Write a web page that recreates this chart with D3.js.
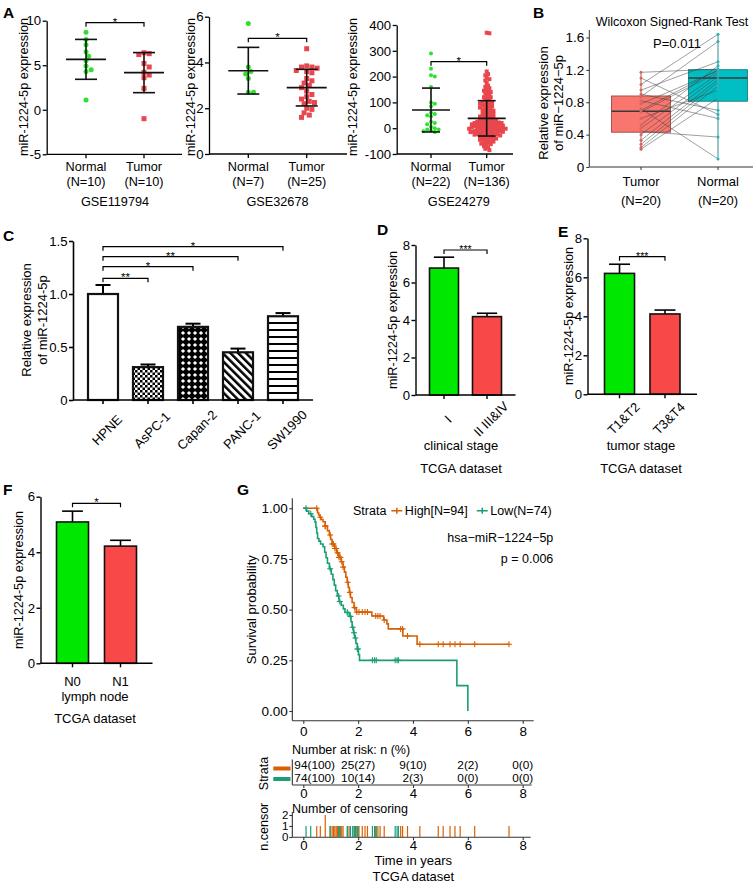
<!DOCTYPE html>
<html><head><meta charset="utf-8">
<script src="https://cdn.jsdelivr.net/npm/d3@7"></script>
<style>body{margin:0;background:#fff}svg{display:block}text{font-family:"Liberation Sans",Arial,Helvetica,sans-serif}</style>
</head><body>
<svg id="c" width="753" height="883"></svg>
<script>
// ================= DATA =================
const aGroups = ["Normal", "Tumor"];
// GSE119794
const a1Normal = [8.7, 7.9, 7.3, 6.5, 6.0, 5.5, 4.9, 4.5, 4.3, 1.1];
const a1Tumor = [6.4, 6.3, 6.2, 5.2, 4.8, 4.2, 3.9, 3.6, 2.4, -1.0];
const a1Mean = [5.66, 4.17], a1SD = [2.24, 2.25];
const a1N = ["(N=10)", "(N=10)"];
const a1Ticks = [-5, 0, 5, 10];
// GSE32678
const a2Normal = [5.7, 3.8, 3.6, 3.5, 3.3, 2.7, 2.7];
const a2Tumor = [4.6, 3.85, 3.8, 3.8, 3.75, 3.65, 3.6, 3.55, 3.3, 3.2, 3.1, 3.0, 2.9, 2.75, 2.6, 2.5, 2.4, 2.3, 2.25, 2.2, 2.0, 1.95, 1.8, 1.7, 1.6];
const a2Mean = [3.64, 2.9], a2SD = [1.02, 0.8];
const a2N = ["(N=7)", "(N=25)"];
const a2Ticks = [0, 2, 4, 6];
// GSE24279
const a3Normal = [290, 230, 205, 200, 160, 100, 95, 85, 60, 55, 50, 45, 25, 20, 15, 5, 0, -5, -5, -10, -12, -15];
const a3Tumor = [370, 368,
  220, 210, 205, 195, 190, 185, 175, 165, 160, 155, 150, 145, 140, 140, 135, 130, 125, 120, 120, 115,
  110, 105, 102, 100, 98, 95, 92, 90, 88, 85,
  82, 80, 78, 75, 72, 70, 68, 65, 62, 60,
  58, 55, 52, 50, 48, 45, 42, 40, 38, 35,
  33, 30, 28, 25, 24, 22, 20, 18, 16, 15,
  13, 12, 10, 8, 6, 5, 4, 2, 1, 0,
  -1, -2, -4, -5, -6, -8, -10, -11, -12, -14,
  -15, -16, -18, -20, -21, -22, -24, -25, -26, -28,
  -30, -31, -33, -35, -36, -38, -40, -42, -44, -45,
  -48, -50, -52, -55, -58, -60, -62, -65, -70, -75,
  5, 8, 10, 12, 15, 18, 20, 22, -5, -8, -10, -12, -15, 25, 28, 30, -20, -25, 3, 0, -2, -85, -80, 45];
const a3Mean = [70.5, 38.2], a3SD = [85, 68.5];
const a3N = ["(N=22)", "(N=136)"];
const a3Ticks = [-100, 0, 100, 200, 300, 400];

// B: paired Wilcoxon
const bGroups = ["Tumor", "Normal"];
const bTumor = [1.17, 1.10, 1.02, 0.95, 0.90, 0.87, 0.82, 0.78, 0.72, 0.70, 0.68, 0.60, 0.52, 0.48, 0.44, 0.40, 0.33, 0.28, 0.24, 0.22];
const bNormal = [1.21, 0.65, 1.64, 1.30, 0.70, 1.55, 0.60, 1.19, 0.10, 1.20, 1.17, 0.95, 1.25, 1.15, 0.37, 1.12, 1.08, 1.05, 1.00, 0.85];
const bTicks = [0, 0.4, 0.8, 1.2, 1.6];

// C: cell lines
const cLines = ["HPNE", "AsPC-1", "Capan-2", "PANC-1", "SW1990"];
const cValues = [1.00, 0.31, 0.69, 0.45, 0.79];
const cSEM = [0.085, 0.025, 0.03, 0.035, 0.03];
const cTicks = [0, 0.5, 1.0, 1.5];
const cBrackets = [["HPNE", "SW1990", "*"], ["HPNE", "PANC-1", "**"], ["HPNE", "Capan-2", "*"], ["HPNE", "AsPC-1", "**"]];

// D / E / F: TCGA
const dCats = ["I", "II III&IV"], dValues = [6.77, 4.18], dSEM = [0.58, 0.18];
const eCats = ["T1&T2", "T3&T4"], eValues = [6.2, 4.12], eSEM = [0.47, 0.2];
const fCats = ["N0", "N1"], fValues = [5.09, 4.22], fSEM = [0.39, 0.21];
const tcgaTicks8 = [0, 2, 4, 6, 8], tcgaTicks6 = [0, 2, 4, 6];

// G: Kaplan-Meier
const highTimes = [0, 0.52, 0.56, 0.60, 0.65, 0.72, 0.80, 0.88, 0.95, 1.00, 1.05, 1.15, 1.22, 1.30, 1.38, 1.45, 1.50, 1.55, 1.60, 1.64, 1.68, 1.72, 1.78, 1.85, 1.93, 2.50, 2.93, 3.05, 3.10, 3.63, 4.15, 7.50];
const highSurv = [1, 0.978, 0.967, 0.956, 0.945, 0.934, 0.912, 0.890, 0.868, 0.846, 0.824, 0.802, 0.780, 0.758, 0.736, 0.710, 0.685, 0.660, 0.635, 0.610, 0.585, 0.560, 0.535, 0.510, 0.488, 0.469, 0.449, 0.430, 0.405, 0.370, 0.329, 0.329];
const lowTimes = [0, 0.12, 0.20, 0.31, 0.38, 0.43, 0.46, 0.49, 0.52, 0.57, 0.63, 0.72, 0.78, 0.83, 0.88, 0.95, 1.02, 1.08, 1.13, 1.18, 1.24, 1.30, 1.38, 1.46, 1.52, 1.68, 1.74, 1.78, 1.83, 1.87, 1.92, 1.97, 2.01, 2.05, 5.60, 6.00];
const lowSurv = [1, 0.986, 0.973, 0.959, 0.946, 0.932, 0.905, 0.878, 0.851, 0.838, 0.824, 0.810, 0.783, 0.756, 0.729, 0.702, 0.675, 0.648, 0.621, 0.594, 0.567, 0.540, 0.522, 0.504, 0.486, 0.467, 0.440, 0.413, 0.386, 0.360, 0.333, 0.306, 0.278, 0.250, 0.125, 0];
const highCensor = [0.49, 0.62, 0.80, 0.80, 0.98, 1.05, 1.10, 1.15, 1.20, 1.25, 1.30, 1.35, 1.40, 1.45, 1.62, 1.70, 1.87, 1.95, 2.03, 2.15, 2.25, 2.34, 2.64, 2.72, 2.80, 2.95, 3.55, 3.62, 3.80, 4.25, 4.92, 5.10, 5.35, 5.53, 5.72, 6.25, 7.50];
const lowCensor = [0.10, 0.27, 0.98, 1.29, 1.33, 1.60, 1.62, 1.72, 1.80, 1.85, 1.90, 1.97, 2.00, 2.52, 2.60, 2.66, 3.35, 3.42, 3.47];
const riskTimes = [0, 2, 4, 6, 8];
const riskHigh = ["94(100)", "25(27)", "9(10)", "2(2)", "0(0)"];
const riskLow = ["74(100)", "10(14)", "2(3)", "0(0)", "0(0)"];
const kmTicksY = [0, 0.25, 0.5, 0.75, 1];
const kmTicksX = [0, 2, 4, 6, 8];

// ================= DRAWING =================
const FONT = '"Liberation Sans", Arial, Helvetica, sans-serif';
const svg = d3.select("#c");
const GREEN = "#2fe02f", RED = "#e9474d", BGREEN = "#00e800", BRED = "#f84848";
const ORANGE = "#D95F02", TEAL = "#1B9E77";

function txt(x, y, s, o = {}) {
  const t = svg.append("text").attr("x", x).attr("y", y).attr("dy", o.dy ?? "0.35em")
    .attr("font-size", o.size || 12.7).attr("text-anchor", o.anchor || "middle")
    .attr("fill", o.fill || "#000").attr("font-weight", o.bold ? "bold" : null).text(s);
  if (o.rot) t.attr("transform", `rotate(${o.rot},${x},${y})`);
  return t;
}
function letter(x, y, s) { txt(x, y, s, {size: 15.5, bold: true, anchor: "start", dy: 0}); }
function styleAxis(g, size, color = "#000", w = 1.3) {
  g.attr("font-family", FONT).attr("font-size", size);
  g.selectAll("path,line").attr("stroke", color).attr("stroke-width", w);
  g.selectAll("text").attr("fill", "#000");
}
function hline(x1, x2, y, w = 1.3, c = "#000") {
  svg.append("line").attr("x1", x1).attr("x2", x2).attr("y1", y).attr("y2", y).attr("stroke", c).attr("stroke-width", w);
}
function bracket(x1, x2, y, label, size = 11.5) {
  svg.append("path").attr("d", `M${x1},${y + 4}V${y}H${x2}V${y + 4}`).attr("fill", "none").attr("stroke", "#000").attr("stroke-width", 1.2);
  txt((x1 + x2) / 2, y + 3, label, {size, dy: 0});
}
function swarm(vals, y, d) {
  const order = vals.map((v, i) => i).sort((a, b) => y(vals[a]) - y(vals[b]));
  const placed = [], off = new Array(vals.length), step = d * 0.5;
  order.forEach(i => {
    const py = y(vals[i]);
    for (let k = 0; k < 400; k++) {
      const o = (k % 2 ? 1 : -1) * Math.ceil(k / 2) * step;
      if (placed.every(q => (q.x - o) ** 2 + (q.y - py) ** 2 >= d * d * 0.92)) { off[i] = o; placed.push({x: o, y: py}); break; }
    }
  });
  return off;
}

// ---------- Panel A scatter ----------
function scatterPanel(c) {
  const y = d3.scaleLinear().domain([c.ticks[0], c.ticks[c.ticks.length - 1]]).range([c.yBot, c.yTop]);
  const x = d3.scalePoint().domain(aGroups).range(c.catX);
  const ga = svg.append("g").attr("transform", `translate(${c.axisX},0)`)
    .call(d3.axisLeft(y).tickValues(c.ticks).tickSize(4).tickSizeOuter(0).tickPadding(1.5).tickFormat(d => String(d)));
  styleAxis(ga, 13.2);
  hline(c.axisX, c.axisEnd, c.yBot);
  aGroups.forEach(gn => svg.append("line").attr("x1", x(gn)).attr("x2", x(gn)).attr("y1", c.yBot).attr("y2", c.yBot + 4).attr("stroke", "#000").attr("stroke-width", 1.3));
  const offN = swarm(c.normal, y, c.dN), offT = swarm(c.tumor, y, c.dT);
  svg.append("g").selectAll("circle").data(c.normal).join("circle")
    .attr("cx", (d, i) => x("Normal") + offN[i]).attr("cy", d => y(d)).attr("r", c.r).attr("fill", GREEN);
  svg.append("g").selectAll("rect").data(c.tumor).join("rect")
    .attr("x", (d, i) => x("Tumor") + offT[i] - c.r).attr("y", d => y(d) - c.r).attr("width", c.r * 2).attr("height", c.r * 2).attr("fill", RED);
  aGroups.forEach((gn, i) => {
    const cx = x(gn), m = c.mean[i], s = c.sd[i];
    hline(cx - c.mw, cx + c.mw, y(m), 1.6, "#111");
    hline(cx - c.cw, cx + c.cw, y(m + s), 1.6, "#111");
    hline(cx - c.cw, cx + c.cw, y(m - s), 1.6, "#111");
    svg.append("line").attr("x1", cx).attr("x2", cx).attr("y1", y(m + s)).attr("y2", y(m - s)).attr("stroke", "#111").attr("stroke-width", 1.6);
    txt(cx, 167, gn); txt(cx, 182, c.n[i]);
  });
  txt((c.catX[0] + c.catX[1]) / 2, 202, c.dataset);
  txt(c.titleX, 87, "miR-1224-5p expression", {rot: -90});
  bracket(x("Normal"), x("Tumor"), c.brY, "*");
}
scatterPanel({axisX: 46.7, axisEnd: 182, yTop: 20.7, yBot: 154.3, ticks: a1Ticks, catX: [86, 144], normal: a1Normal, tumor: a1Tumor, mean: a1Mean, sd: a1SD, n: a1N, dataset: "GSE119794", titleX: 24, brY: 22.7, r: 2.5, dN: 5.2, dT: 5.2, mw: 20, cw: 11});
scatterPanel({axisX: 209, axisEnd: 347, yTop: 16.7, yBot: 154, ticks: a2Ticks, catX: [248.3, 306.7], normal: a2Normal, tumor: a2Tumor, mean: a2Mean, sd: a2SD, n: a2N, dataset: "GSE32678", titleX: 191, brY: 38.3, r: 2.5, dN: 5.2, dT: 5.2, mw: 20, cw: 11});
scatterPanel({axisX: 396.7, axisEnd: 513, yTop: 25, yBot: 154, ticks: a3Ticks, catX: [431, 486.7], normal: a3Normal, tumor: a3Tumor, mean: a3Mean, sd: a3SD, n: a3N, dataset: "GSE24279", titleX: 352.5, brY: 61.7, r: 2.0, dN: 3.8, dT: 2.7, mw: 19, cw: 9});
letter(3, 17.5, "A");

// ---------- Panel B ----------
(function () {
  const y = d3.scaleLinear().domain([0, 1.6]).range([167, 37.5]);
  const x = d3.scalePoint().domain(bGroups).range([641, 718]);
  const bw = 59;
  const ga = svg.append("g").attr("transform", "translate(589.3,0)")
    .call(d3.axisLeft(y).tickValues(bTicks).tickSize(3).tickSizeOuter(0).tickPadding(2).tickFormat(d => String(d)));
  ga.select(".domain").remove();
  styleAxis(ga, 13.5, "#333", 1);
  svg.append("line").attr("x1", 589.3).attr("x2", 589.3).attr("y1", 30).attr("y2", 167).attr("stroke", "#333");
  hline(589.3, 753, 167, 1, "#333");
  bGroups.forEach(gn => svg.append("line").attr("x1", x(gn)).attr("x2", x(gn)).attr("y1", 167).attr("y2", 170).attr("stroke", "#333"));
  const sets = {Tumor: bTumor, Normal: bNormal};
  const fills = {Tumor: "#F8766D", Normal: "#00BFC4"};
  const strokes = {Tumor: "#9a4a45", Normal: "#1d7f83"};
  const pts = {Tumor: "#d8655e", Normal: "#28b4b9"};
  bGroups.forEach(gn => {
    const v = sets[gn].slice().sort(d3.ascending);
    const q1 = d3.quantile(v, 0.25), q2 = d3.quantile(v, 0.5), q3 = d3.quantile(v, 0.75);
    const cx = x(gn);
    svg.append("line").attr("x1", cx).attr("x2", cx).attr("y1", y(v[0])).attr("y2", y(v[v.length - 1])).attr("stroke", strokes[gn]).attr("stroke-width", 0.9);
    svg.append("rect").attr("x", cx - bw / 2).attr("y", y(q3)).attr("width", bw).attr("height", y(q1) - y(q3))
      .attr("fill", fills[gn]).attr("stroke", strokes[gn]).attr("stroke-width", 0.9);
    hline(cx - bw / 2, cx + bw / 2, y(q2), 1.5, "#3a3a3a");
  });
  bTumor.forEach((t, i) => {
    svg.append("line").attr("x1", x("Tumor")).attr("x2", x("Normal")).attr("y1", y(t)).attr("y2", y(bNormal[i]))
      .attr("stroke", "#444").attr("stroke-width", 0.6).attr("stroke-opacity", 0.85);
  });
  bGroups.forEach(gn => svg.append("g").selectAll("circle").data(sets[gn]).join("circle")
    .attr("cx", x(gn)).attr("cy", d => y(d)).attr("r", 1.5).attr("fill", pts[gn]));
  txt(672, 21.7, "Wilcoxon Signed-Rank Test", {size: 12.5});
  txt(677, 43.3, "P=0.011", {size: 13});
  bGroups.forEach(gn => { txt(x(gn), 181.7, gn, {size: 13}); txt(x(gn), 200, "(N=20)", {size: 13}); });
  txt(543, 103, "Relative expression", {rot: -90, size: 13});
  txt(558.5, 103, "of  miR\u22121224\u22125p", {rot: -90, size: 13});
  letter(533, 17.5, "B");
})();

// ---------- patterns for C ----------
const defs = svg.append("defs");
(function () {
  const p1 = defs.append("pattern").attr("id", "pChk").attr("patternUnits", "userSpaceOnUse").attr("width", 5).attr("height", 5);
  p1.append("rect").attr("width", 5).attr("height", 5).attr("fill", "#fff");
  p1.append("rect").attr("width", 2.5).attr("height", 2.5).attr("fill", "#000");
  p1.append("rect").attr("x", 2.5).attr("y", 2.5).attr("width", 2.5).attr("height", 2.5).attr("fill", "#000");
  const p2 = defs.append("pattern").attr("id", "pDia").attr("patternUnits", "userSpaceOnUse").attr("width", 6).attr("height", 6);
  p2.append("rect").attr("width", 6).attr("height", 6).attr("fill", "#000");
  p2.append("path").attr("d", "M3,0.9L5.1,3L3,5.1L0.9,3Z").attr("fill", "#fff");
  const p3 = defs.append("pattern").attr("id", "pDiag").attr("patternUnits", "userSpaceOnUse").attr("width", 5.5).attr("height", 5.5).attr("patternTransform", "rotate(-45)");
  p3.append("rect").attr("width", 5.5).attr("height", 5.5).attr("fill", "#fff");
  p3.append("rect").attr("width", 2.5).attr("height", 5.5).attr("fill", "#000");
  const p4 = defs.append("pattern").attr("id", "pHor").attr("patternUnits", "userSpaceOnUse").attr("width", 7).attr("height", 7);
  p4.append("rect").attr("width", 7).attr("height", 7).attr("fill", "#fff");
  p4.append("rect").attr("width", 7).attr("height", 2).attr("fill", "#000");
})();
const cFills = ["#fff", "url(#pChk)", "url(#pDia)", "url(#pDiag)", "url(#pHor)"];

// ---------- bar helper ----------
function barPanel(c) {
  const y = d3.scaleLinear().domain([c.ticks[0], c.ticks[c.ticks.length - 1]]).range([c.yBot, c.yTop]);
  const x = d3.scaleBand().domain(c.cats).range([c.axisX, c.axisEnd]).paddingInner(c.pi).paddingOuter(c.po);
  const bw = x.bandwidth();
  c.cats.forEach((k, i) => {
    const x0 = x(k), cx = x0 + bw / 2, top = y(c.values[i]), e = y(c.values[i] + c.sem[i]);
    svg.append("line").attr("x1", cx).attr("x2", cx).attr("y1", top).attr("y2", e).attr("stroke", "#000").attr("stroke-width", c.ew);
    hline(cx - bw * c.cap / 2, cx + bw * c.cap / 2, e, c.ew);
    svg.append("rect").attr("x", x0).attr("y", top).attr("width", bw).attr("height", c.yBot - top)
      .attr("fill", c.fills[i]).attr("stroke", "#111").attr("stroke-width", c.bs);
  });
  const ga = svg.append("g").attr("transform", `translate(${c.axisX},0)`)
    .call(d3.axisLeft(y).tickValues(c.ticks).tickSize(4).tickSizeOuter(0).tickPadding(1.5).tickFormat(c.fmt || (d => String(d))));
  styleAxis(ga, 13.2, "#000", c.aw);
  hline(c.axisX, c.axisEnd, c.yBot, c.aw);
  c.cats.forEach(k => svg.append("line").attr("x1", x(k) + bw / 2).attr("x2", x(k) + bw / 2).attr("y1", c.yBot).attr("y2", c.yBot + 4).attr("stroke", "#000").attr("stroke-width", c.aw));
  return {x, y, bw};
}

// ---------- Panel C ----------
(function () {
  const r = barPanel({cats: cLines, values: cValues, sem: cSEM, ticks: cTicks, axisX: 73, axisEnd: 313, yTop: 241, yBot: 400, pi: 1 / 3, po: 1 / 3, fills: cFills, cap: 0.5, ew: 2, bs: 2.2, aw: 1.6, fmt: d => d === 0 ? "0" : d3.format(".1f")(d)});
  cLines.forEach(k => txt(r.x(k) + r.bw / 2 + 4, 430, k, {rot: -45, size: 13}));
  const ys = [246.7, 256.7, 266.7, 278.3];
  cBrackets.forEach((b, i) => bracket(r.x(b[0]) + r.bw / 2, r.x(b[1]) + r.bw / 2, ys[i], b[2]));
  txt(26, 320, "Relative expression", {rot: -90, size: 13});
  txt(42, 320, "of miR-1224-5p", {rot: -90, size: 13});
  letter(3, 240.5, "C");
})();

// ---------- Panel D ----------
(function () {
  const r = barPanel({cats: dCats, values: dValues, sem: dSEM, ticks: tcgaTicks8, axisX: 415.5, axisEnd: 515.5, yTop: 245, yBot: 395, pi: 14 / 43, po: 14 / 43, fills: [BGREEN, BRED], cap: 0.7, ew: 1.6, bs: 1.6, aw: 1.4});
  dCats.forEach(k => txt(r.x(k) + r.bw / 2 + 4, 419, k, {rot: -45, size: 13}));
  bracket(r.x(dCats[0]) + r.bw / 2, r.x(dCats[1]) + r.bw / 2, 250, "***", 10.5);
  txt(393, 320, "miR-1224-5p expression", {rot: -90});
  txt(461, 445.7, "clinical stage", {size: 13});
  txt(461, 468.3, "TCGA dataset", {size: 13});
  letter(377, 235, "D");
})();

// ---------- Panel E ----------
(function () {
  const r = barPanel({cats: eCats, values: eValues, sem: eSEM, ticks: tcgaTicks8, axisX: 587.5, axisEnd: 697, yTop: 238.3, yBot: 394.3, pi: 0.34, po: 0.374, fills: [BGREEN, BRED], cap: 0.7, ew: 1.6, bs: 1.6, aw: 1.4});
  eCats.forEach(k => txt(r.x(k) + r.bw / 2 + 4, 418.5, k, {rot: -45, size: 13}));
  bracket(r.x(eCats[0]) + r.bw / 2, r.x(eCats[1]) + r.bw / 2, 256.7, "***", 10.5);
  txt(569, 316, "miR-1224-5p expression", {rot: -90});
  txt(641, 445.7, "tumor stage", {size: 13});
  txt(641, 468.3, "TCGA dataset", {size: 13});
  letter(558, 237, "E");
})();

// ---------- Panel F ----------
(function () {
  const r = barPanel({cats: fCats, values: fValues, sem: fSEM, ticks: tcgaTicks6, axisX: 40.5, axisEnd: 152.5, yTop: 496.7, yBot: 663.3, pi: 1 / 3, po: 1 / 3, fills: [BGREEN, BRED], cap: 0.65, ew: 1.6, bs: 1.6, aw: 1.4});
  fCats.forEach(k => txt(r.x(k) + r.bw / 2, 681.7, k, {size: 13}));
  bracket(r.x(fCats[0]) + r.bw / 2, r.x(fCats[1]) + r.bw / 2, 503.3, "*");
  txt(19, 580, "miR-1224-5p expression", {rot: -90});
  txt(95, 696, "lymph node", {size: 13});
  txt(95, 718.3, "TCGA dataset", {size: 13});
  letter(3, 495, "F");
})();

// ---------- Panel G ----------
(function () {
  const x = d3.scaleLinear().domain([0, 8]).range([303.3, 522.7]);
  const y = d3.scaleLinear().domain([0, 1]).range([711, 508.3]);
  const AX = "#333";
  const xl = x(-0.4), xr = x(8.4);
  // KM axes
  svg.append("line").attr("x1", xl).attr("x2", xl).attr("y1", y(1.05)).attr("y2", y(-0.048)).attr("stroke", AX).attr("stroke-width", 1.1);
  hline(xl, xr, y(-0.048), 1.1, AX);
  const gy = svg.append("g").attr("transform", `translate(${xl},0)`).call(d3.axisLeft(y).tickValues(kmTicksY).tickSize(3).tickPadding(1.5).tickFormat(d3.format(".2f")));
  gy.select(".domain").remove(); styleAxis(gy, 13.5, AX, 1.1);
  const gx = svg.append("g").attr("transform", `translate(0,${y(-0.048)})`).call(d3.axisBottom(x).tickValues(kmTicksX).tickSize(3).tickPadding(3).tickFormat(d3.format("d")));
  gx.select(".domain").remove(); styleAxis(gx, 13.5, AX, 1.1);
  const line = d3.line().x(d => x(d[0])).y(d => y(d[1])).curve(d3.curveStepAfter);
  const curves = [[highTimes, highSurv, highCensor, ORANGE], [lowTimes, lowSurv, lowCensor, TEAL]];
  curves.forEach(([T, S, C, col]) => {
    svg.append("path").attr("d", line(T.map((t, i) => [t, S[i]]))).attr("fill", "none").attr("stroke", col).attr("stroke-width", 1.6);
    const bis = d3.bisector(d => d).right;
    const sAt = t => S[Math.max(0, bis(T, t) - 1)];
    svg.append("g").selectAll("path").data(C).join("path")
      .attr("d", t => { const px = x(t), py = y(sAt(t)); return `M${px - 3},${py}H${px + 3}M${px},${py - 3}V${py + 3}`; })
      .attr("stroke", col).attr("stroke-width", 1.1).attr("fill", "none");
  });
  // legend
  let lx = 353; const ly = 510.7;
  const t1 = txt(lx, ly, "Strata", {size: 12.5, anchor: "start"});
  lx += t1.node().getComputedTextLength() + 5;
  [["High[N=94]", ORANGE], ["Low(N=74)", TEAL]].forEach(([lab, col]) => {
    svg.append("path").attr("d", `M${lx},${ly}H${lx + 11}M${lx + 5.5},${ly - 3}V${ly + 3}`).attr("stroke", col).attr("stroke-width", 1.5).attr("fill", "none");
    const t = txt(lx + 13.5, ly, lab, {size: 12.5, anchor: "start"});
    lx += 13.5 + t.node().getComputedTextLength() + 9;
  });
  txt(553.3, 537.3, "hsa\u2212miR\u22121224\u22125p", {size: 12.5, anchor: "end"});
  txt(553.3, 558.3, "p = 0.006", {size: 12.5, anchor: "end"});
  txt(251.7, 609.7, "Survival probability", {rot: -90, size: 13});
  letter(237, 495, "G");

  // risk table
  txt(292, 749.3, "Number at risk: n (%)", {size: 12.5, anchor: "start"});
  svg.append("line").attr("x1", xl).attr("x2", xl).attr("y1", 759.5).attr("y2", 785).attr("stroke", AX).attr("stroke-width", 1.1);
  hline(xl, xr - 2, 785, 1.1, AX);
  const gr = svg.append("g").attr("transform", "translate(0,785)").call(d3.axisBottom(x).tickValues(riskTimes).tickSize(3).tickPadding(0.5).tickFormat(d3.format("d")));
  gr.select(".domain").remove(); styleAxis(gr, 13.2, AX, 1.1);
  [[riskHigh, 765], [riskLow, 777.8]].forEach(([row, yy]) => row.forEach((s, i) => {
    if (i === 0) txt(xl + 2, yy, s, {size: 11.8, anchor: "start"});
    else txt(x(riskTimes[i]), yy, s, {size: 11.8});
  }));
  hline(273.3, 290.5, 768.5, 4, ORANGE);
  hline(273.3, 290.5, 779, 4, TEAL);
  txt(264, 773.5, "Strata", {rot: -90, size: 12.5});

  // censoring plot
  const yc = d3.scaleLinear().domain([0, 2]).range([837, 815]);
  txt(292, 808.3, "Number of censoring", {size: 12.5, anchor: "start"});
  svg.append("line").attr("x1", xl).attr("x2", xl).attr("y1", 812).attr("y2", 837.3).attr("stroke", AX).attr("stroke-width", 1.1);
  hline(xl, xr - 3, 837.3, 1.1, AX);
  const gcy = svg.append("g").attr("transform", `translate(${xl},0)`).call(d3.axisLeft(yc).tickValues([0, 1, 2]).tickSize(3).tickPadding(1).tickFormat(d3.format("d")));
  gcy.select(".domain").remove(); styleAxis(gcy, 11.5, AX, 1.1);
  const gcx = svg.append("g").attr("transform", "translate(0,837.3)").call(d3.axisBottom(x).tickValues(kmTicksX).tickSize(3).tickPadding(0.5).tickFormat(d3.format("d")));
  gcx.select(".domain").remove(); styleAxis(gcx, 13.2, AX, 1.1);
  [[highCensor, ORANGE], [lowCensor, TEAL]].forEach(([C, col]) => {
    const counts = d3.rollups(C, v => v.length, d => d);
    svg.append("g").selectAll("line").data(counts).join("line")
      .attr("x1", d => x(d[0])).attr("x2", d => x(d[0])).attr("y1", yc(0)).attr("y2", d => yc(d[1]))
      .attr("stroke", col).attr("stroke-width", 1.2);
  });
  txt(264, 826.7, "n.censor", {rot: -90, size: 12.5});
  txt(413.3, 860, "Time in years", {size: 13});
  txt(413.3, 876, "TCGA dataset", {size: 13});
})();
</script>
</body></html>
